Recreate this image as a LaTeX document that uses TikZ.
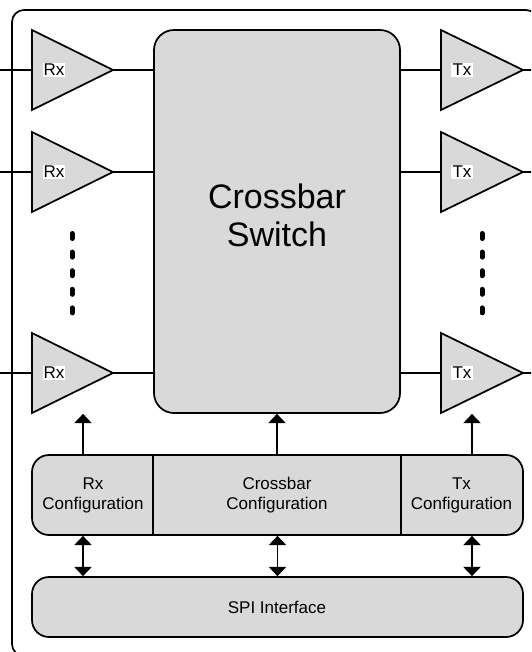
\documentclass[tikz,border=0pt]{standalone}
\usepackage{fontspec}
\setmainfont{Liberation Sans}
\usepackage{xcolor}
\definecolor{boxgray}{RGB}{217,217,217}
\usepackage{tikz}
\usetikzlibrary{
  arrows.meta,
  positioning,
  calc
}
\newcommand{\cfgfont}{\fontsize{12.75}{15}\selectfont}
\newcommand{\xbarfont}{\fontsize{25.5}{28.5}\selectfont}

\begin{document}
\begin{tikzpicture}[x=0.75pt, y=-0.75pt,
  block/.style={draw, fill=boxgray, line width=1.3pt, rounded corners=13pt, inner sep=0pt},
  amp/.style={draw, fill=boxgray, line width=1.3pt},
  wire/.style={line width=1.3pt},
  ctrl/.style={wire, -{Triangle[width=13pt,length=7pt]}},
  bus/.style={wire, {Triangle[width=13pt,length=7pt]}-{Triangle[width=13pt,length=7pt]}},
  tag/.style={fill=white, inner sep=0.8pt, font=\cfgfont},
  dotcol/.style={line width=3.75pt, line cap=round}
]
  \path[use as bounding box, clip] (0,0) rectangle (531,652);

  \draw[line width=1.3pt, rounded corners=9pt] (12,10) rectangle (538,656);

  \node[block, rounded corners=15pt, minimum width=184.5pt, minimum height=287.25pt] (xbar) at (277,221.5) {};
  \node[font=\xbarfont, align=center] (xbartext) at (277,215) {Crossbar\\Switch};

  \foreach \y [count=\i] in {70,172,373} {
    \draw[amp] (32,\y-40) -- (113,\y) -- (32,\y+40) -- cycle;
    \coordinate (rxin\i) at (32,\y);
    \coordinate (rxout\i) at (113,\y);
    \draw[wire] (0,\y) -- (rxin\i);
    \draw[wire] (rxout\i) -- (rxout\i -| xbar.west);
    \node[tag] (rxtag\i) at (54,\y) {Rx};

    \draw[amp] (441,\y-40) -- (523,\y) -- (441,\y+40) -- cycle;
    \coordinate (txin\i) at (441,\y);
    \coordinate (txout\i) at (523,\y);
    \draw[wire] (txin\i -| xbar.east) -- (txin\i);
    \draw[wire] (txout\i) -- (540,\y);
    \node[tag] (txtag\i) at (462,\y) {Tx};
  }

  \foreach \y in {236,254.6,273.2,291.8,310.4} {
    \draw[dotcol] (72,\y-2.5) -- (72,\y+2.5);
    \draw[dotcol] (482,\y-2.5) -- (482,\y+2.5);
  }

  \node[block, rounded corners=12.75pt, minimum width=368.25pt, minimum height=60pt] (cfg) at (277.5,495) {};
  \draw[wire] (cfg.north -| xbar.west) -- (cfg.south -| xbar.west);
  \draw[wire] (cfg.north -| xbar.east) -- (cfg.south -| xbar.east);
  \node[font=\cfgfont, align=center] (rxcfg) at (93,495) {Rx\\Configuration};
  \node[font=\cfgfont, align=center] (xbcfg) at (277,495) {Crossbar\\Configuration};
  \node[font=\cfgfont, align=center] (txcfg) at (461.5,495) {Tx\\Configuration};

  \node[block, rounded corners=12.75pt, minimum width=368.25pt, minimum height=45pt] (spi) at (277.5,607) {};
  \node[font=\cfgfont] (spitext) at (277,607) {SPI Interface};

  \draw[ctrl] (cfg.north -| 83,0) -- (xbar.south -| 83,0);
  \draw[ctrl] (cfg.north -| xbar.south) -- (xbar.south);
  \draw[ctrl] (cfg.north -| 472,0) -- (xbar.south -| 472,0);

  \draw[bus] (cfg.south -| 83,0) -- (spi.north -| 83,0);
  \draw[bus] (cfg.south -| spi.north) -- (spi.north);
  \draw[bus] (cfg.south -| 472,0) -- (spi.north -| 472,0);
\end{tikzpicture}
\end{document}
